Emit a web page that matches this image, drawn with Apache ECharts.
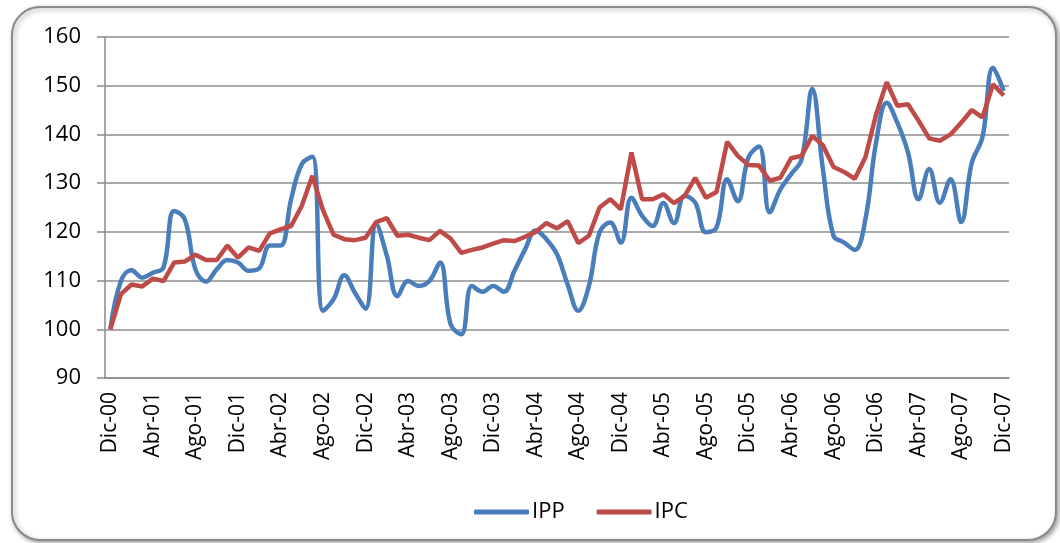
<!DOCTYPE html>
<html>
<head>
<meta charset="utf-8">
<script src="https://cdn.jsdelivr.net/npm/echarts@6/dist/echarts.min.js"></script>
<style>
  html, body { margin: 0; padding: 0; background: #fff; }
  #chart { width: 1060px; height: 543px; }
</style>
</head>
<body>
<div id="chart"></div>
<script>
// meses (dic-2000 .. dic-2007)
const meses = ['Ene', 'Feb', 'Mar', 'Abr', 'May', 'Jun', 'Jul', 'Ago', 'Sep', 'Oct', 'Nov', 'Dic'];
const categorias = ['Dic-00'];
for (let a = 1; a <= 7; a++) {
  for (let m = 0; m < 12; m++) {
    categorias.push(meses[m] + '-0' + a);
  }
}

const ipp = [
  100, 109.9, 112.1, 110.6, 111.6, 112.7, 124.3, 122.6, 112.3, 109.8,
  112.3, 114.2, 113.7, 112.0, 112.5, 117.2, 117.2, 126.7, 133.9, 135.4,
  103.8, 106.2, 111.1, 107.5, 104.2, 121.6, 115.1, 106.8, 109.9, 108.9,
  109.9, 113.7, 101.0, 99.0, 108.9, 107.7, 108.9, 107.7, 112.0, 116.4,
  120.3, 118.5, 115.4, 109.2, 103.8, 108.9, 119.9, 121.9, 117.8, 127.0,
  123.3, 121.2, 125.9, 121.8, 127.4, 126.0, 119.9, 120.9, 130.8, 126.3,
  135.3, 137.5, 124.0, 128.7, 131.8, 134.9, 149.3, 132.9, 119.2, 117.8,
  116.3, 122.6, 138.3, 146.5, 142.4, 136.3, 126.7, 132.9, 126.0, 130.8,
  122.0, 134.2, 139.4, 153.7, 148.9
];

const ipc = [
  100, 107.2, 109.2, 108.8, 110.4, 109.9, 113.7, 113.9, 115.3, 114.2,
  114.2, 117.2, 114.7, 116.8, 116.1, 119.7, 120.5, 121.2, 125.3, 131.5,
  124.4, 119.4, 118.5, 118.3, 118.8, 122.0, 122.8, 119.2, 119.4, 118.8,
  118.3, 120.2, 118.6, 115.7, 116.3, 116.8, 117.6, 118.3, 118.1, 119.0,
  120.0, 121.8, 120.7, 122.2, 117.7, 119.2, 125.0, 126.7, 124.6, 136.3,
  126.7, 126.7, 127.7, 125.9, 127.4, 131.1, 127.0, 128.2, 138.5, 135.6,
  133.7, 133.6, 130.5, 131.1, 135.1, 135.6, 139.7, 137.8, 133.3, 132.3,
  130.9, 135.3, 144.1, 150.7, 145.9, 146.2, 142.8, 139.2, 138.7, 140.0,
  142.4, 145.0, 143.5, 150.3, 148.0
];

const chart = echarts.init(document.getElementById('chart'), null, { renderer: 'canvas' });
const fuente = '"Open Sans", sans-serif';

const option = {
  animation: false,
  textStyle: { fontFamily: fuente, color: '#000' },
  // marco redondeado del grafico
  graphic: [{
    type: 'rect',
    shape: { x: 12, y: 7, width: 1044, height: 533, r: 28 },
    style: {
      fill: '#fff',
      stroke: '#8a8a8a',
      lineWidth: 2,
      shadowBlur: 5,
      shadowOffsetX: 2,
      shadowOffsetY: 2,
      shadowColor: 'rgba(0,0,0,0.35)'
    },
    z: -10
  }],
  grid: { left: 105, right: 51, top: 37, bottom: 165 },
  legend: {
    left: 469,
    top: 496,
    itemWidth: 55,
    itemHeight: 5,
    itemGap: 32,
    icon: 'roundRect',
    textStyle: { fontSize: 22, fontFamily: fuente, color: '#000', padding: [0, 0, 0, -2] },
    data: ['IPP', 'IPC']
  },
  xAxis: {
    type: 'category',
    data: categorias,
    boundaryGap: true,
    axisLine: { lineStyle: { color: '#8a8a8a', width: 1.5 } },
    axisTick: { interval: 3, length: 7, lineStyle: { color: '#8a8a8a', width: 1.5 } },
    axisLabel: {
      interval: 3,
      rotate: 90,
      margin: 14,
      fontSize: 21,
      color: '#000',
      fontFamily: fuente
    }
  },
  yAxis: {
    type: 'value',
    min: 90,
    max: 160,
    interval: 10,
    axisLine: { show: true, lineStyle: { color: '#8a8a8a', width: 1.5 } },
    axisTick: { show: true, length: 8, lineStyle: { color: '#8a8a8a', width: 1.5 } },
    axisLabel: { margin: 24, fontSize: 22, color: '#000', fontFamily: fuente },
    splitLine: { lineStyle: { color: '#8e8e8e', width: 1.5 } }
  },
  series: [{
    name: 'IPP',
    type: 'line',
    data: ipp,
    smooth: 0.4,
    symbol: 'none',
    itemStyle: { color: '#4a7ebb' },
    lineStyle: { color: '#4a7ebb', width: 4.5 },
    z: 2
  }, {
    name: 'IPC',
    type: 'line',
    data: ipc,
    symbol: 'none',
    itemStyle: { color: '#be4b48' },
    lineStyle: { color: '#be4b48', width: 4.5 },
    z: 3
  }]
};

chart.setOption(option);
</script>
</body>
</html>
